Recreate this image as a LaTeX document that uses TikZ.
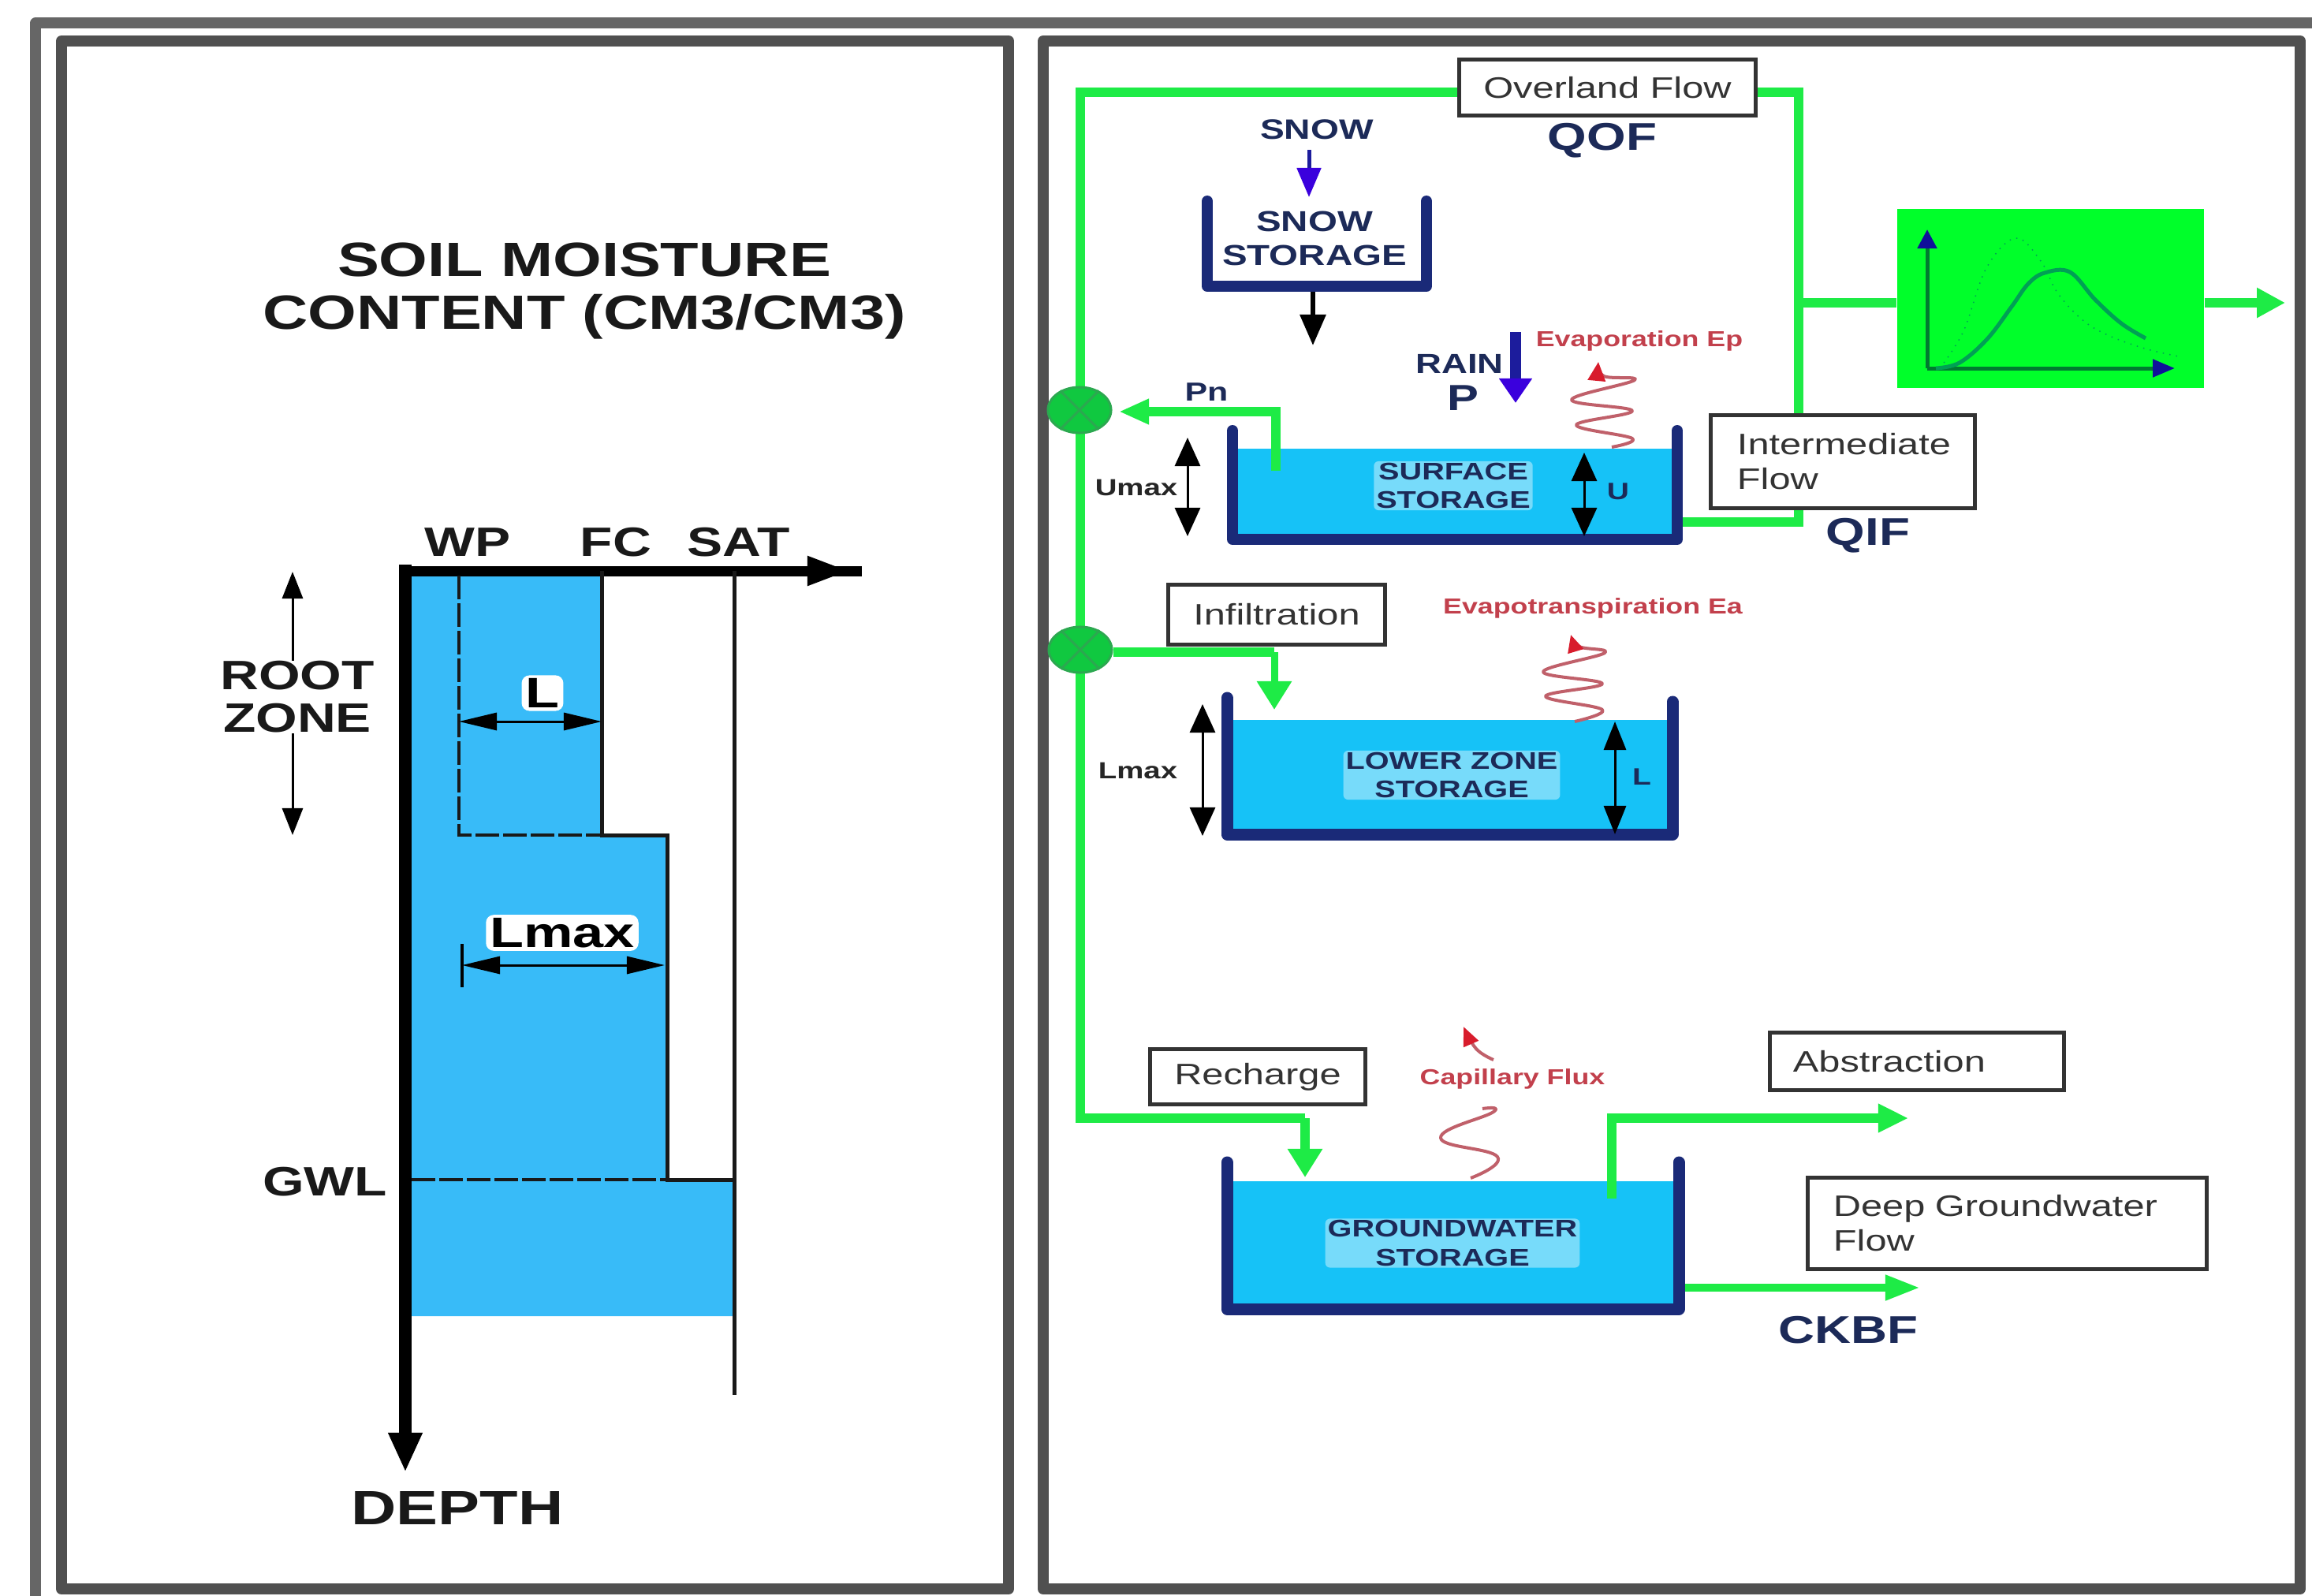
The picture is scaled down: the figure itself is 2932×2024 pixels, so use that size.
\documentclass[tikz,border=0pt]{standalone}
\usepackage{fontspec}
\setmainfont{Liberation Sans}[FakeStretch=1.3]
\usetikzlibrary{arrows.meta,shapes.geometric}
\pgfdeclarelayer{flowlayer}
\pgfsetlayers{flowlayer,main}
\newcommand\fsz[2]{\fontsize{#1cm}{#2cm}\selectfont}
\definecolor{framein}{HTML}{505050}
\definecolor{frameout}{HTML}{666666}
\definecolor{soilblue}{HTML}{38BBF8}
\definecolor{waterblue}{HTML}{16C2F7}
\definecolor{tanknavy}{HTML}{1A2A78}
\definecolor{textnavy}{HTML}{1C2A58}
\definecolor{flowgreen}{HTML}{1EEB46}
\definecolor{plotgreen}{HTML}{00FF2A}
\definecolor{valvegreen}{HTML}{10C840}
\definecolor{valveedge}{HTML}{2CA850}
\definecolor{plotaxis}{HTML}{007A30}
\definecolor{plotcurve}{HTML}{00A055}
\definecolor{plothead}{HTML}{10109A}
\definecolor{evaptext}{HTML}{C2404C}
\definecolor{squiggle}{HTML}{C0606A}
\definecolor{evaptip}{HTML}{D81C2C}
\definecolor{rainblue}{HTML}{1C1C9C}
\definecolor{rainhead}{HTML}{3A00DD}
\definecolor{boxtext}{HTML}{333333}
\tikzset{
  frameI/.style={draw=framein,line join=round},
  tankwall/.style={draw=tanknavy,line width=.14cm,line cap=round,line join=round},
  water/.style={fill=waterblue,draw=none},
  flow/.style={draw=flowgreen,line width=.115cm,line join=miter},
  flowtip/.style={flow,-{Triangle[length=.36cm,width=.36cm,color=flowgreen]}},
  flowtipL/.style={flow,-{Triangle[length=.36cm,width=.42cm,color=flowgreen]}},
  tbox/.style={draw=black!80,line width=.05cm,fill=white,inner sep=0pt,text=boxtext,font=\fsz{.375}{.44}},
  tboxL/.style={tbox,align=left},
  navyB/.style={text=textnavy,font=\bfseries\fsz{.49}{.5},inner sep=0pt},
  tanklab/.style={text=textnavy,font=\bfseries\fsz{.305}{.365},align=center,fill=white,fill opacity=.42,text opacity=1,rounded corners=.06cm,inner xsep=.03cm,inner ysep=.02cm},
  snowlab/.style={text=textnavy,font=\bfseries\fsz{.365}{.43},align=center,inner sep=0pt},
  redlab/.style={text=evaptext,font=\bfseries\fsz{.275}{.3},inner sep=0pt},
  smalllab/.style={text=black!85,font=\bfseries\fsz{.295}{.3},inner sep=0pt},
  dbl/.style={draw=black,line width=.03cm,{Triangle[length=.36cm,width=.32cm]}-{Triangle[length=.36cm,width=.32cm]}},
  soiltxt/.style={text=black!90,font=\bfseries\fsz{.52}{.54},inner sep=0pt,align=center},
  dimL/.style={draw=black,line width=.03cm,{Triangle[length=.48cm,width=.22cm]}-{Triangle[length=.48cm,width=.22cm]}},
  thinblk/.style={draw=black!90,line width=.05cm},
  dashblk/.style={draw=black!90,line width=.035cm,dash pattern=on .3cm off .05cm},
  halo/.style={fill=white,rounded corners=.1cm,inner xsep=.05cm,inner ysep=.04cm,font=\bfseries\fsz{.54}{.56},text=black},
  sq/.style={draw=squiggle,line width=.04cm,line join=round},
  valve/.style={ellipse,draw=valveedge,line width=.03cm,fill=valvegreen,minimum width=.8cm,minimum height=.58cm,inner sep=0pt},
}
\begin{document}
\begin{tikzpicture}[x=.01cm,y=-.01cm]
\useasboundingbox (0,0) rectangle (2932,2024);
% frames
\draw[draw=frameout,line width=.13cm,line join=round] (2932,29) -- (45,29) -- (45,2024);
\draw[frameI,line width=.14cm] (78,52) rectangle (1279,2015);
\draw[frameI,line width=.14cm] (1323,52) rectangle (2917,2015);

% ---------- left panel ----------
\fill[soilblue] (520,730) -- (763,730) -- (763,1059) -- (846,1059) -- (846,1496) -- (931,1496) -- (931,1669) -- (520,1669) -- cycle;
\coordinate (org) at (514,724);
\coordinate (xtip) at (1078,724);
\coordinate (xstub) at (1050,724);
\coordinate (xend) at (1093,724);
\coordinate (ytip) at (514,1867);
\draw[draw=black,line width=.13cm] (xstub) -- (xend);
\draw[draw=black,line width=.13cm,line cap=rect,-{Triangle[length=.54cm,width=.34cm]}] (org) -- (xtip);
\draw[draw=black,line width=.16cm,line cap=rect,-{Triangle[length=.5cm,width=.4cm]}] (org) -- (ytip);
\draw[thinblk] (931,724) -- (931,1769);
\draw[thinblk] (763,724) -- (763,1059) -- (846,1059) -- (846,1496) -- (931,1496);
\draw[dashblk] (582,730) -- (582,1059) -- (763,1059);
\draw[dashblk] (522,1496) -- (846,1496);
\node[soiltxt,font=\bfseries\fsz{.61}{.67}] (title) at (741,369) {SOIL MOISTURE\\CONTENT (CM3/CM3)};
\node[soiltxt] (wp) at (593,688) {WP};
\node[soiltxt] (fc) at (781,688) {FC};
\node[soiltxt] (sat) at (937,688) {SAT};
\node[soiltxt] (rootzone) at (377,884) {ROOT\\ZONE};
\node[soiltxt] (gwl) at (412,1499) {GWL};
\node[soiltxt,font=\bfseries\fsz{.61}{.61}] (depth) at (580,1912) {DEPTH};
\coordinate (rzt) at (371,725);
\coordinate (rzb) at (371,1059);
\draw[draw=black,line width=.03cm,-{Triangle[length=.34cm,width=.26cm]}] (rootzone.north -| rzt) -- (rzt);
\draw[draw=black,line width=.03cm,-{Triangle[length=.34cm,width=.26cm]}] (rootzone.south -| rzb) -- (rzb);
\coordinate (la) at (582,915);
\coordinate (lb) at (763,915);
\draw[dimL] (la) -- (lb);
\node[halo] (llab) at (688,879) {L};
\coordinate (lma) at (586,1224);
\coordinate (lmb) at (843,1224);
\draw[dimL] (lma) -- (lmb);
\coordinate (tkA) at (586,1197);
\coordinate (tkB) at (586,1252);
\draw[draw=black,line width=.035cm] (tkA) -- (tkB);
\node[halo] (lmaxlab) at (713,1183) {Lmax};

% ---------- boxes ----------
\node[tbox,minimum width=3.75cm,minimum height=.71cm] (ovl) at (2038.5,111) {Overland Flow};
\node[tboxL,text width=2.68cm,inner xsep=.33cm,minimum height=1.17cm] (ifl) at (2337,585.5) {Intermediate\\Flow};
\node[tbox,minimum width=2.74cm,minimum height=.75cm] (inf) at (1619,779.5) {Infiltration};
\node[tbox,minimum width=2.72cm,minimum height=.69cm] (rch) at (1595,1365.5) {Recharge};
\node[tboxL,text width=3.14cm,inner xsep=.29cm,minimum height=.72cm] (abs) at (2431,1346) {Abstraction};
\node[tboxL,text width=4.41cm,inner xsep=.32cm,minimum height=1.15cm] (deep) at (2545.5,1551.5) {Deep Groundwater\\Flow};
\node[fill=plotgreen,minimum width=3.89cm,minimum height=2.27cm,inner sep=0pt] (hyd) at (2600.5,378.5) {};
\node[valve] (v1) at (1369,520) {};
\node[valve] (v2) at (1370,824) {};
\draw[draw=valveedge,line width=.03cm] (v1.45) -- (v1.225) (v1.135) -- (v1.315);
\draw[draw=valveedge,line width=.03cm] (v2.45) -- (v2.225) (v2.135) -- (v2.315);

% ---------- water and green network, behind the boxes ----------
\coordinate (ovL) at (1851,117);
\coordinate (ovR) at (2226,117);
\coordinate (cnA) at (1370,117);
\coordinate (cnB) at (1370,1418);
\coordinate (rhTip) at (1655,1493);
\coordinate (rhC) at (1655,1418);
\coordinate (juT) at (2281,117);
\coordinate (juB) at (2281,662);
\coordinate (tnkS) at (2134,662);
\coordinate (juM) at (2281,384);
\coordinate (hydOut) at (2898,384);
\coordinate (pnS) at (1618,597);
\coordinate (pnC) at (1618,522);
\coordinate (pnT) at (1419,522);
\coordinate (ifC) at (1616,827);
\coordinate (ifT) at (1616,900);
\coordinate (abS) at (2044,1520);
\coordinate (abC) at (2044,1418);
\coordinate (abT) at (2420,1418);
\coordinate (ckS) at (2136,1633);
\coordinate (ckT) at (2435,1633);
\begin{pgfonlayer}{flowlayer}
\fill[white] (0,0) rectangle (2932,2024);
\fill[water] (1563,569) rectangle (2127,684);
\fill[water] (1556,913) rectangle (2121,1058);
\fill[water] (1556,1498) rectangle (2129,1660);
\draw[flow] (ovl.west |- ovL) -- (cnA) -- (cnB) -- (rhC);
\draw[flowtipL] (rhC) -- (rhTip);
\draw[flow] (ovl.east |- ovR) -- (juT) -- (juB) -- (tnkS);
\draw[flow] (juM) -- (hyd.west |- juM);
\draw[flowtip] (hyd.east |- hydOut) -- (hydOut);
\draw[flowtip,-{Triangle[length=.38cm,width=.3cm,color=flowgreen]}] (pnS) -- (pnC) -- (pnT);
\draw[flow] (v2.east |- ifC) -- (ifC);
\draw[flowtipL,line width=.09cm] (ifC) -- (ifT);
\draw[flowtip,-{Triangle[length=.38cm,width=.34cm,color=flowgreen]}] (abS) -- (abC) -- (abT);
\draw[flowtip,line width=.1cm,-{Triangle[length=.44cm,width=.3cm,color=flowgreen]}] (ckS) -- (ckT);
\end{pgfonlayer}

% ---------- hydrograph ----------
\coordinate (hO) at (2444,467);
\coordinate (hY) at (2444,291);
\coordinate (hX) at (2758,467);
\draw[draw=plotaxis,line width=.05cm,-{Triangle[length=.24cm,width=.24cm,color=plothead]}] (hO) -- (hY);
\draw[draw=plotaxis,line width=.05cm,-{Triangle[length=.28cm,width=.22cm,color=plothead]}] (hO) -- (hX);
\draw[draw=plotcurve,line width=.05cm] plot[smooth,tension=.6] coordinates {(2455,467) (2485,460) (2520,430) (2551,389) (2572,360) (2593,346) (2625,345) (2657,380) (2690,410) (2721,429)};
\draw[draw=plotcurve,line width=.015cm,dotted] plot[smooth,tension=.6] coordinates {(2460,467) (2490,420) (2519,340) (2556,302) (2588,331) (2609,371) (2640,405) (2673,425) (2720,442) (2763,452)};

% ---------- tanks ----------
\draw[tankwall] (1531,255) -- (1531,363) -- (1809,363) -- (1809,255);
\draw[tankwall] (1563,546) -- (1563,684) -- (2127,684) -- (2127,546);
\draw[tankwall,line width=.15cm] (1556,885) -- (1556,1058) -- (2121,1058) -- (2121,890);
\draw[tankwall,line width=.15cm] (1556,1474) -- (1556,1660) -- (2129,1660) -- (2129,1474);
\node[snowlab] (snowst) at (1667,302.5) {SNOW\\STORAGE};
\node[tanklab] (surf) at (1843,616) {SURFACE\\STORAGE};
\node[tanklab] (lower) at (1841,983) {LOWER ZONE\\STORAGE};
\node[tanklab] (gwst) at (1842,1576.5) {GROUNDWATER\\STORAGE};

% ---------- snow & rain ----------
\node[text=textnavy,font=\bfseries\fsz{.355}{.36},inner sep=0pt] (snow) at (1670,164) {SNOW};
\coordinate (snA) at (1660,190);
\coordinate (snB) at (1660,250);
\draw[draw=rainblue,line width=.05cm,-{Triangle[length=.37cm,width=.3cm,color=rainhead]}] (snA) -- (snB);
\coordinate (stA) at (1665,370);
\coordinate (stB) at (1665,438);
\draw[draw=black,line width=.06cm,-{Triangle[length=.39cm,width=.32cm]}] (stA) -- (stB);
\node[text=textnavy,font=\bfseries\fsz{.35}{.36},inner sep=0pt] (rain) at (1851,461) {RAIN};
\node[text=textnavy,font=\bfseries\fsz{.46}{.46},inner sep=0pt] (pl) at (1855,505) {P};
\coordinate (raA) at (1922,421);
\coordinate (raB) at (1922,511);
\draw[draw=rainblue,line width=.14cm,-{Triangle[length=.31cm,width=.4cm,color=rainhead]}] (raA) -- (raB);

% ---------- evaporation ----------
\node[redlab] (ep) at (2079,432) {Evaporation Ep};
\draw[sq,-{Triangle[length=.24cm,width=.22cm,color=evaptip]}] plot[smooth,tension=.65] coordinates {(2044,567) (2070,556) (1999,539) (2070,521) (1993,507) (2073,482) (2034,477) (2027,459)};
\node[redlab] (ea) at (2020,771) {Evapotranspiration Ea};
\draw[sq,-{Triangle[length=.22cm,width=.2cm,color=evaptip]}] plot[smooth,tension=.65] coordinates {(1997,915) (2032,900) (1960,883) (2032,867) (1957,852) (2035,828) (2003,820) (1992,805)};
\node[redlab] (cap) at (1918,1368) {Capillary Flux};
\draw[sq,-{Triangle[length=.24cm,width=.2cm,color=evaptip]}] plot[smooth,tension=.7] coordinates {(1894,1344) (1872,1330) (1856,1302)};
\draw[sq] plot[smooth,tension=.8] coordinates {(1865,1494) (1899,1467) (1827,1443) (1894,1410) (1880,1406)};

% ---------- tank gauges ----------
\coordinate (umA) at (1506,555);
\coordinate (umB) at (1506,680);
\draw[dbl] (umA) -- (umB);
\node[smalllab] (umax) at (1441,618) {Umax};
\coordinate (uA) at (2009,574);
\coordinate (uB) at (2009,680);
\draw[dbl] (uA) -- (uB);
\node[text=textnavy,font=\bfseries\fsz{.3}{.3},inner sep=0pt] (ulab) at (2052,623) {U};
\coordinate (lmxA) at (1525,893);
\coordinate (lmxB) at (1525,1060);
\draw[dbl] (lmxA) -- (lmxB);
\node[smalllab] (lmax) at (1443,977) {Lmax};
\coordinate (lA) at (2048,915);
\coordinate (lB) at (2048,1058);
\draw[dbl,{Triangle[length=.36cm,width=.28cm]}-{Triangle[length=.36cm,width=.28cm]}] (lA) -- (lB);
\node[text=textnavy,font=\bfseries\fsz{.3}{.3},inner sep=0pt] (llow) at (2082,985) {L};

% ---------- flow names ----------
\node[text=textnavy,font=\bfseries\fsz{.33}{.33},inner sep=0pt] (pn) at (1530,497) {Pn};
\node[navyB] (qof) at (2032,178) {QOF};
\node[navyB] (qif) at (2369,679) {QIF};
\node[navyB] (ckbf) at (2344,1687) {CKBF};
\end{tikzpicture}
\end{document}
